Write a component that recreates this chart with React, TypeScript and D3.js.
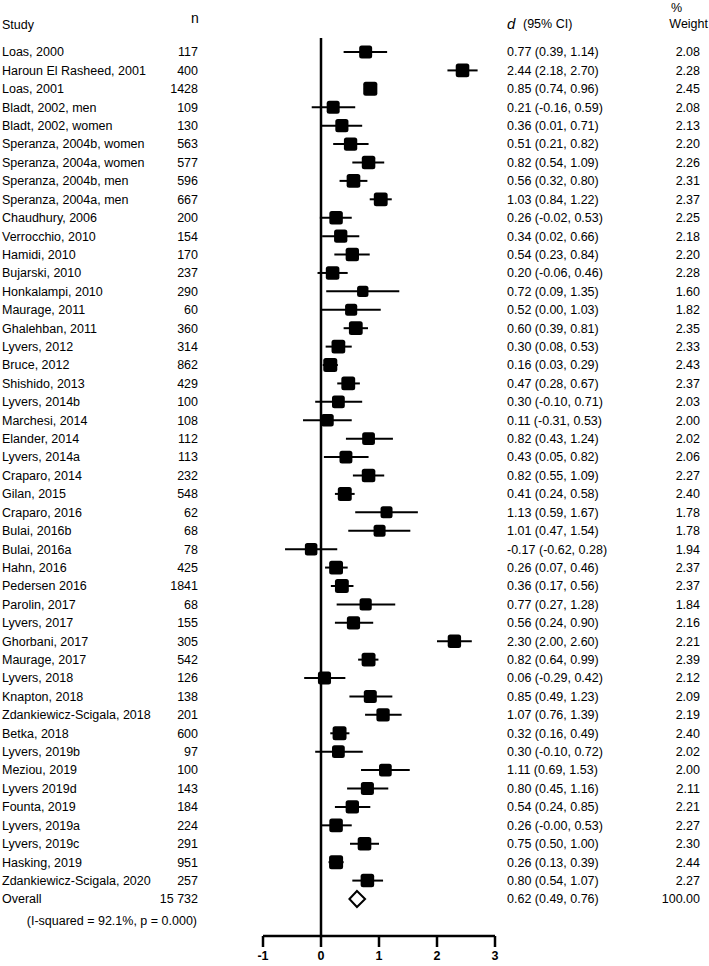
import React from 'react';
import * as d3 from 'd3';

// study rows, top to bottom
const studies = [
  'Loas, 2000', 'Haroun El Rasheed, 2001', 'Loas, 2001', 'Bladt, 2002, men', 'Bladt, 2002, women',
  'Speranza, 2004b, women', 'Speranza, 2004a, women', 'Speranza, 2004b, men', 'Speranza, 2004a, men',
  'Chaudhury, 2006', 'Verrocchio, 2010', 'Hamidi, 2010', 'Bujarski, 2010', 'Honkalampi, 2010',
  'Maurage, 2011', 'Ghalehban, 2011', 'Lyvers, 2012', 'Bruce, 2012', 'Shishido, 2013', 'Lyvers, 2014b',
  'Marchesi, 2014', 'Elander, 2014', 'Lyvers, 2014a', 'Craparo, 2014', 'Gilan, 2015', 'Craparo, 2016',
  'Bulai, 2016b', 'Bulai, 2016a', 'Hahn, 2016', 'Pedersen 2016', 'Parolin, 2017', 'Lyvers, 2017',
  'Ghorbani, 2017', 'Maurage, 2017', 'Lyvers, 2018', 'Knapton, 2018', 'Zdankiewicz-Scigala, 2018',
  'Betka, 2018', 'Lyvers, 2019b', 'Meziou, 2019', 'Lyvers 2019d', 'Founta, 2019', 'Lyvers, 2019a',
  'Lyvers, 2019c', 'Hasking, 2019', 'Zdankiewicz-Scigala, 2020',
];
const sampleSizes = [
  117, 400, 1428, 109, 130, 563, 577, 596, 667, 200, 154, 170, 237, 290, 60, 360, 314, 862, 429, 100,
  108, 112, 113, 232, 548, 62, 68, 78, 425, 1841, 68, 155, 305, 542, 126, 138, 201, 600, 97, 100, 143,
  184, 224, 291, 951, 257,
];
const effects = [
  0.77, 2.44, 0.85, 0.21, 0.36, 0.51, 0.82, 0.56, 1.03, 0.26, 0.34, 0.54, 0.20, 0.72, 0.52, 0.60, 0.30,
  0.16, 0.47, 0.30, 0.11, 0.82, 0.43, 0.82, 0.41, 1.13, 1.01, -0.17, 0.26, 0.36, 0.77, 0.56, 2.30, 0.82,
  0.06, 0.85, 1.07, 0.32, 0.30, 1.11, 0.80, 0.54, 0.26, 0.75, 0.26, 0.80,
];
const lowers = [
  0.39, 2.18, 0.74, -0.16, 0.01, 0.21, 0.54, 0.32, 0.84, -0.02, 0.02, 0.23, -0.06, 0.09, 0.00, 0.39,
  0.08, 0.03, 0.28, -0.10, -0.31, 0.43, 0.05, 0.55, 0.24, 0.59, 0.47, -0.62, 0.07, 0.17, 0.27, 0.24,
  2.00, 0.64, -0.29, 0.49, 0.76, 0.16, -0.10, 0.69, 0.45, 0.24, -0.0, 0.50, 0.13, 0.54,
];
const uppers = [
  1.14, 2.70, 0.96, 0.59, 0.71, 0.82, 1.09, 0.80, 1.22, 0.53, 0.66, 0.84, 0.46, 1.35, 1.03, 0.81, 0.53,
  0.29, 0.67, 0.71, 0.53, 1.24, 0.82, 1.09, 0.58, 1.67, 1.54, 0.28, 0.46, 0.56, 1.28, 0.90, 2.60, 0.99,
  0.42, 1.23, 1.39, 0.49, 0.72, 1.53, 1.16, 0.85, 0.53, 1.00, 0.39, 1.07,
];
const weights = [
  2.08, 2.28, 2.45, 2.08, 2.13, 2.20, 2.26, 2.31, 2.37, 2.25, 2.18, 2.20, 2.28, 1.60, 1.82, 2.35, 2.33,
  2.43, 2.37, 2.03, 2.00, 2.02, 2.06, 2.27, 2.40, 1.78, 1.78, 1.94, 2.37, 2.37, 1.84, 2.16, 2.21, 2.39,
  2.12, 2.09, 2.19, 2.40, 2.02, 2.00, 2.11, 2.21, 2.27, 2.30, 2.44, 2.27,
];
const overallN = 15732;
const overallEffect = 0.62;
const overallLower = 0.49;
const overallUpper = 0.76;
const overallWeight = 100;
const heterogeneity = '(I-squared = 92.1%, p = 0.000)';
const xTicks = [-1, 0, 1, 2, 3];

const fmt = (v: number) => (Object.is(v, -0) ? '-' : '') + v.toFixed(2);
const ci = (e: number, lo: number, hi: number) => `${fmt(e)} (${fmt(lo)}, ${fmt(hi)})`;
const fmtN = (n: number) => (n >= 10000 ? d3.format(',')(n).replace(',', ' ') : String(n));

const W = 709, H = 966;
const FONT = 'Liberation Sans, Arial, sans-serif';

export default function App() {
  const x = d3.scaleLinear().domain([-1, 3]).range([263, 495]);
  const y = d3.scaleLinear().domain([0, studies.length]).range([52, 899]);
  const axisY = 936;
  const side = (w: number) => 9 * Math.sqrt(w);
  const oy = y(studies.length);

  const diamond = d3.line()([
    [x(overallLower), oy], [x(overallEffect), oy - 8], [x(overallUpper), oy], [x(overallEffect), oy + 8],
  ]) + 'Z';

  return (
    <svg width={W} height={H} style={{ position: 'absolute', left: 0, top: 0, background: '#fff' }}
      fontFamily={FONT} fontSize={12.5} fill="#000">
      {/* headers */}
      <text x={2} y={25} dy="0.35em">Study</text>
      <text x={195} y={18} dy="0.35em" textAnchor="middle" fontSize={14}>n</text>
      <text x={507} y={24} dy="0.35em" fontSize={15} fontStyle="italic">d</text>
      <text x={523} y={24} dy="0.35em">(95% CI)</text>
      <text x={671} y={8} dy="0.35em">%</text>
      <text x={708} y={24} dy="0.35em" textAnchor="end">Weight</text>

      {/* null line */}
      <line x1={x(0)} x2={x(0)} y1={38} y2={axisY} stroke="#000" strokeWidth={2.5} />

      {studies.map((s, i) => {
        const yy = y(i);
        const sz = side(weights[i]);
        return (
          <g key={s + i}>
            <text x={2} y={yy} dy="0.35em">{s}</text>
            <text x={198} y={yy} dy="0.35em" textAnchor="end">{sampleSizes[i]}</text>
            <line x1={x(lowers[i])} x2={x(uppers[i])} y1={yy} y2={yy} stroke="#000" strokeWidth={2} />
            <rect x={x(effects[i]) - sz / 2} y={yy - sz / 2} width={sz} height={sz} rx={2.5} fill="#000" />
            <text x={507} y={yy} dy="0.35em">{ci(effects[i], lowers[i], uppers[i])}</text>
            <text x={700} y={yy} dy="0.35em" textAnchor="end">{weights[i].toFixed(2)}</text>
          </g>
        );
      })}

      {/* overall */}
      <text x={2} y={oy} dy="0.35em">Overall</text>
      <text x={198} y={oy} dy="0.35em" textAnchor="end">{fmtN(overallN)}</text>
      <path d={diamond} fill="#fff" stroke="#000" strokeWidth={2} />
      <text x={507} y={oy} dy="0.35em">{ci(overallEffect, overallLower, overallUpper)}</text>
      <text x={700} y={oy} dy="0.35em" textAnchor="end">{overallWeight.toFixed(2)}</text>
      <text x={197} y={921} dy="0.35em" textAnchor="end">{heterogeneity}</text>

      {/* x axis */}
      <line x1={x(-1)} x2={x(3)} y1={axisY} y2={axisY} stroke="#000" strokeWidth={2.5} />
      {xTicks.map(t => (
        <g key={t}>
          <line x1={x(t)} x2={x(t)} y1={axisY} y2={axisY + 11} stroke="#000" strokeWidth={2.5} />
          <text x={x(t)} y={956} dy="0.35em" textAnchor="middle" fontWeight="bold">{t}</text>
        </g>
      ))}
    </svg>
  );
}
